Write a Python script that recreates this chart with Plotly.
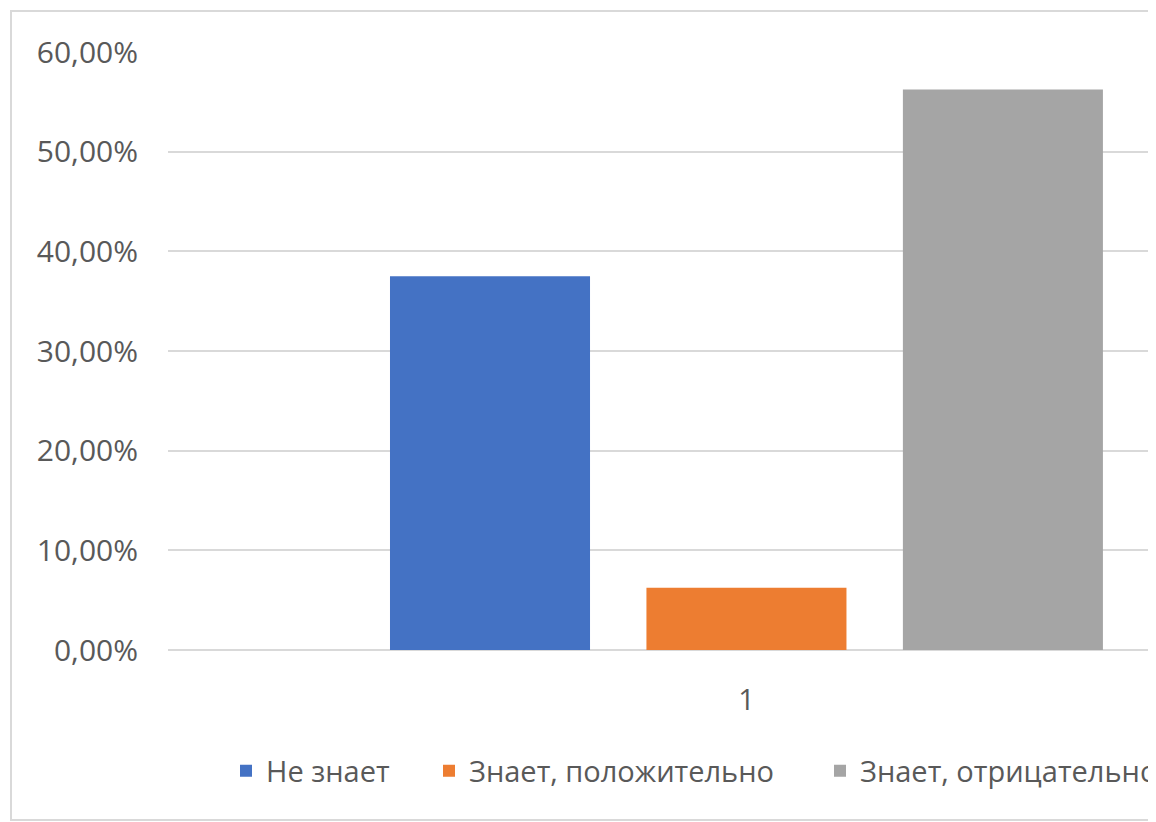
import plotly.graph_objects as go

categories = ["1"]
series_names = ["Не знает", "Знает, положительно", "Знает, отрицательно"]
series_values = [[0.375], [0.0625], [0.5625]]
series_colors = ["#4472C4", "#ED7D31", "#A5A5A5"]
y_ticks = [0, 0.1, 0.2, 0.3, 0.4, 0.5, 0.6]

FONT = "Open Sans"
TXT = "#595959"

fig = go.Figure()
legend_ids = ["legend", "legend2", "legend3"]
for name, vals, col, lg in zip(series_names, series_values, series_colors, legend_ids):
    fig.add_trace(go.Bar(x=categories, y=vals, name=name, marker_color=col,
                         marker_line_width=0, legend=lg))

# page places the figure at (8, 8)
OFF = 8
W, H = 1156 - OFF, 822 - OFF
legend_marker_centers = [246, 449, 840]
legend_y = 771

def leg(xc):
    return dict(x=(xc - OFF - 20) / W, xref="container", y=(H - (legend_y - OFF)) / H, yref="container",
                xanchor="left", yanchor="middle", orientation="h",
                bgcolor="rgba(0,0,0,0)", font=dict(family=FONT, size=29, color=TXT))

plot_left, plot_top, plot_bottom = 168 - OFF, 52 - OFF, 650 - OFF
fig.update_layout(
    width=W, height=H,
    margin=dict(l=plot_left, r=0, t=plot_top, b=H - plot_bottom),
    paper_bgcolor="white", plot_bgcolor="white",
    barmode="group", bargap=0.335, bargroupgap=0.22,
    separators=",.",
    font=dict(family=FONT, size=29, color=TXT),
    legend=leg(legend_marker_centers[0]),
    legend2=leg(legend_marker_centers[1]),
    legend3=leg(legend_marker_centers[2]),
    showlegend=True,
)
fig.update_xaxes(type="category", range=[-0.5, 0.354], showgrid=False, showline=False,
                 ticks="", ticklabelstandoff=30, tickfont=dict(family=FONT, size=29, color=TXT))
fig.update_yaxes(range=[0, 0.6], tickvals=y_ticks, tickformat=".2%", showgrid=True,
                 gridcolor="#D9D9D9", gridwidth=2, zeroline=True, zerolinecolor="#D9D9D9",
                 zerolinewidth=2, showline=False, ticks="", ticklabelstandoff=29,
                 tickfont=dict(family=FONT, size=30, color=TXT))

# chart-area frame
pw = W - plot_left
ph = plot_bottom - plot_top
fig.add_shape(type="rect", xref="paper", yref="paper",
              x0=(11 - OFF - plot_left) / pw, x1=1.2,
              y0=(plot_bottom - (820 - OFF)) / ph, y1=(plot_bottom - (11 - OFF)) / ph,
              line=dict(color="#D9D9D9", width=2), fillcolor="rgba(0,0,0,0)", layer="below")

fig.write_html("out.html")
